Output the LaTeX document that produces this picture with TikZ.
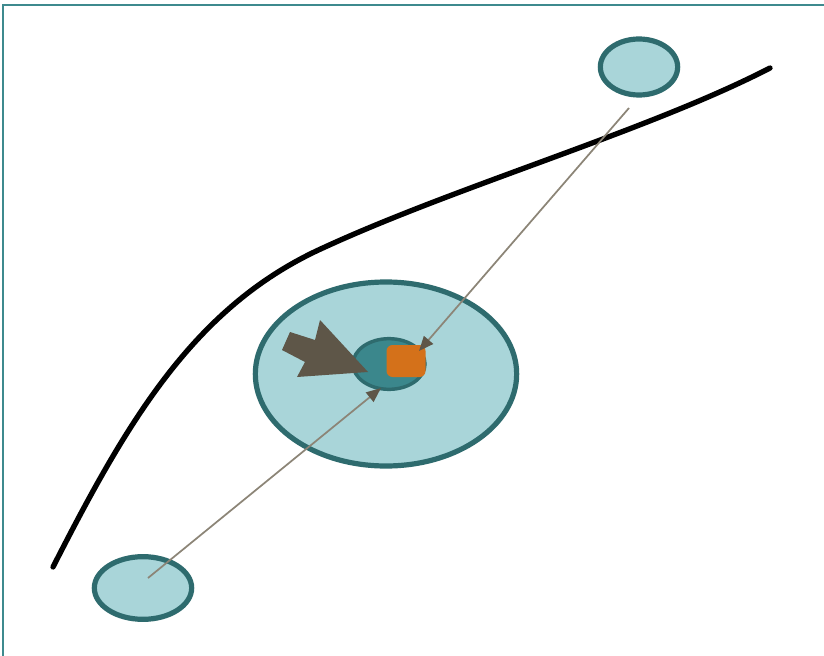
\documentclass[tikz,border=0pt]{standalone}
\usetikzlibrary{arrows.meta,shapes.geometric}
\definecolor{lightteal}{HTML}{A9D5D9}
\definecolor{darkteal}{HTML}{2E6B6E}
\definecolor{midteal}{HTML}{3B878C}
\definecolor{frameteal}{HTML}{3E8A8E}
\definecolor{orangec}{HTML}{D4711A}
\definecolor{brownc}{HTML}{5E5648}
\definecolor{grayline}{HTML}{8C8577}
\tikzset{
  blob/.style={ellipse, fill=lightteal, draw=darkteal, line width=3.9pt, inner sep=0pt},
  thinarrow/.style={draw=grayline, line width=1.3pt, -{Triangle[length=11pt,width=9pt,fill=brownc,color=brownc]}},
}
\begin{document}
\begin{tikzpicture}[x=0.75pt,y=-0.75pt]
\useasboundingbox (0,0) rectangle (824,656);
\fill[white] (0,0) rectangle (824,656);
% frame
\draw[frameteal, line width=1.5pt] (3,656) -- (3,5) -- (824,5);
% curve
\draw[black, line width=4pt, line cap=round] (53,567) .. controls (128,420) and (195,305) .. (325,247) .. controls (460,185) and (650,130) .. (770,68);
% ellipses
\node[blob, minimum width=196pt, minimum height=138pt] (big) at (386,374) {};
\node[blob, minimum width=58pt, minimum height=42pt] (tr) at (639,67) {};
\node[blob, minimum width=73pt, minimum height=47pt] (bl) at (143,588) {};
\node[ellipse, fill=midteal, draw=darkteal, line width=2.6pt, minimum width=54pt, minimum height=38pt, inner sep=0pt] (inner) at (389,364) {};
\node[fill=orangec, rounded corners=4.5pt, minimum width=29.25pt, minimum height=24pt, inner sep=0pt] (sq) at (406,361) {};
% thin arrows
\coordinate (s1) at (148,578);
\coordinate (e1) at (381,388);
\coordinate (s2) at (629,108);
\coordinate (e2) at (419,351);
\draw[thinarrow] (s1) -- (e1);
\draw[thinarrow] (s2) -- (e2);
% big arrow
\fill[brownc] (290,332) -- (315,340) -- (320,320) -- (368,372) -- (297,377) -- (305,362) -- (282,350) -- cycle;
\end{tikzpicture}
\end{document}
